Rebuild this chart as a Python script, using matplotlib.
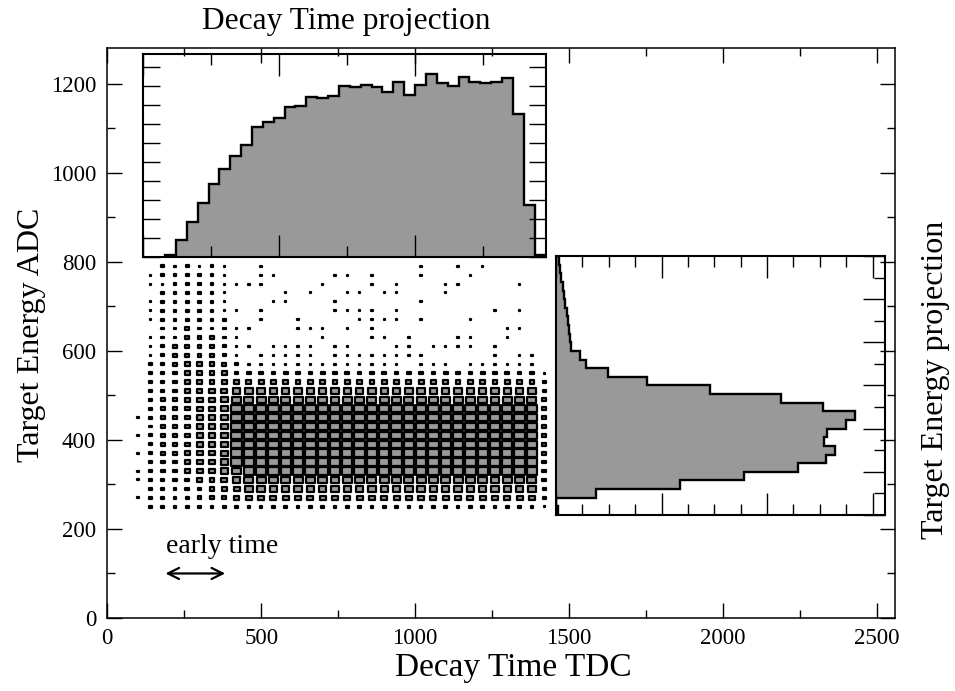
import numpy as np
import matplotlib
matplotlib.use("Agg")
import matplotlib.pyplot as plt
from matplotlib.patches import Rectangle
from matplotlib.collections import PatchCollection
from matplotlib.ticker import MultipleLocator

plt.rcParams['font.family'] = ['Liberation Serif', 'DejaVu Serif']

# ---------------- data ----------------
# Decay time binning (TDC), 40-channel bins from 80 to 1480
time_edges = np.arange(80, 1481, 40)
time_counts = [9, 87, 182, 284, 384, 466, 532, 588, 686, 710, 735, 791, 798,
               845, 838, 850, 899, 895, 904, 897, 869, 920, 852, 909, 967,
               915, 902, 949, 923, 918, 925, 946, 756, 276, 9]

# Target energy binning (ADC), 20-channel bins from 200 to 800
energy_edges = np.arange(200, 801, 20)
energy_counts = [15, 0, 382, 1173, 1785, 2291, 2562, 2645, 2544, 2569, 2752,
                 2837, 2531, 2133, 1463, 863, 490, 284, 225, 142, 136, 123,
                 111, 101, 88, 76, 64, 50, 35, 26]

# 2D box plot: visible box-size level (0 = empty, 9 = largest)
# rows from top (E = 790) to bottom (E = 250); columns T = 100 ... 1460
box_row_centers = np.arange(790, 249, -20)
box_col_centers = np.arange(100, 1461, 40)
box_levels = [
    "00323 23200 20000 00000 00020 02020 00000",
    "02333 33200 22000 02202 00020 00200 00000",
    "02233 33222 20000 20002 02000 22000 02000",
    "00333 33200 00202 00220 22000 20000 00000",
    "02333 33200 02200 02000 00020 00000 00000",
    "02333 33220 20000 02222 02000 00002 02000",
    "02333 33300 20020 00022 22020 00200 00000",
    "00334 33322 00022 20202 00000 00000 22000",
    "02334 44320 00000 20002 20200 02200 20000",
    "02344 44322 02222 02200 02202 22202 00000",
    "02344 44320 22222 02222 22220 00002 02200",
    "03345 55432 22222 22222 22022 20222 22200",
    "03345 55544 44444 44444 44444 44444 44420",
    "03345 55555 55555 55555 55555 55555 55530",
    "03345 56677 77777 77777 77777 77777 77730",
    "03445 66788 88888 88888 88888 88888 88840",
    "03445 66799 99999 99999 99999 99999 99940",
    "23445 66799 99999 99999 99999 99999 99940",
    "03445 66799 99999 99999 99999 99999 99940",
    "23445 66799 99999 99999 99999 99999 99940",
    "03445 66799 99999 99999 99999 99999 99940",
    "23445 66799 99999 99999 99999 99999 99940",
    "03445 66799 99999 99999 99999 99999 99940",
    "23445 66789 99999 99999 99999 99999 99940",
    "23344 55678 88888 88888 88888 88888 88840",
    "03334 45567 77777 77777 77777 77777 77730",
    "23333 44456 66666 66666 66666 66666 66630",
    "03333 33333 33333 33333 33333 33333 33320",
]

# style: fraction of bin size used by a box of each level
level_frac = [0.0, 0.06, 0.11, 0.21, 0.30, 0.39, 0.49, 0.60, 0.72, 0.84]

W, H = 955, 691
fig = plt.figure(figsize=(W / 100, H / 100), dpi=100)

def fig_rect(left, right, top, bottom):
    return [left / W, 1 - bottom / H, (right - left) / W, (bottom - top) / H]

# ---------------- main axes ----------------
ax = fig.add_axes(fig_rect(107.3, 895, 48, 618))
ax.set_xlim(0, 2560)
ax.set_ylim(0, 1280)
ax.xaxis.set_major_locator(MultipleLocator(500))
ax.xaxis.set_minor_locator(MultipleLocator(250))
ax.yaxis.set_major_locator(MultipleLocator(200))
ax.yaxis.set_minor_locator(MultipleLocator(100))
ax.tick_params(which='both', direction='in', top=True, right=True, width=1.0)
ax.tick_params(which='major', length=11, labelsize=16.5, pad=7)
ax.tick_params(which='minor', length=5.5)
ax.tick_params(axis='y', which='major', pad=8)
for s in ax.spines.values():
    s.set_linewidth(1.1)

bw, bh = 40, 20
rects = []
for row_str, yc in zip(box_levels, box_row_centers):
    levels = row_str.replace(" ", "")
    assert len(levels) == len(box_col_centers)
    for ch, xc in zip(levels, box_col_centers):
        lv = int(ch)
        if lv == 0:
            continue
        f = level_frac[lv]
        rects.append(Rectangle((xc - f * bw / 2, yc - f * bh / 2), f * bw, f * bh))
pc = PatchCollection(rects, facecolor='#999999', edgecolor='black', linewidth=1.6)
ax.add_collection(pc)

# early time arrow
ax.annotate('', xy=(180, 100), xytext=(392, 100),
            arrowprops=dict(arrowstyle='<->', lw=1.6, color='black',
                            mutation_scale=20))
ax.text(192, 161, 'early time', fontsize=20, ha='left', va='center')

# ---------------- top projection ----------------
axt = fig.add_axes(fig_rect(143.3, 545.5, 54, 257))
axt.patch.set_alpha(0)
axt.set_xlim(0, 1480)
axt.set_ylim(0, 1070)
axt.stairs(time_counts, time_edges, fill=True, color='#999999')
axt.stairs(time_counts, time_edges, color='black', linewidth=1.7)
axt.xaxis.set_major_locator(MultipleLocator(500))
axt.xaxis.set_minor_locator(MultipleLocator(250))
axt.yaxis.set_major_locator(MultipleLocator(100))
axt.tick_params(which='both', direction='in', top=True, right=True, width=1.0,
                labelbottom=False, labelleft=False)
axt.tick_params(which='major', axis='x', length=16)
axt.tick_params(which='minor', axis='x', length=8)
axt.tick_params(which='major', axis='y', length=12)
for s in axt.spines.values():
    s.set_linewidth(1.5)

# ---------------- right projection ----------------
axr = fig.add_axes(fig_rect(556, 885, 256, 515))
axr.patch.set_alpha(0)
axr.set_ylim(200, 800)
axr.set_xlim(0, 3118)
axr.stairs(energy_counts, energy_edges, orientation='horizontal', fill=True,
           color='#999999')
axr.stairs(energy_counts, energy_edges, orientation='horizontal',
           color='black', linewidth=1.7)
axr.xaxis.set_major_locator(MultipleLocator(1000))
axr.xaxis.set_minor_locator(MultipleLocator(250))
axr.yaxis.set_major_locator(MultipleLocator(100))
axr.yaxis.set_minor_locator(MultipleLocator(50))
axr.tick_params(which='both', direction='in', top=True, right=True, left=False,
                width=1.0, labelbottom=False, labelleft=False)
axr.tick_params(which='major', length=16)
axr.tick_params(which='minor', length=8)
for s in axr.spines.values():
    s.set_linewidth(1.5)

# ---------------- titles ----------------
fig.text(513 / W, 1 - 668 / H, 'Decay Time TDC', fontsize=24,
         ha='center', va='center')
fig.text(32 / W, 1 - 335 / H, 'Target Energy ADC', fontsize=23,
         ha='center', va='center', rotation=90)
fig.text(346 / W, 1 - 22 / H, 'Decay Time projection', fontsize=22.6,
         ha='center', va='center')
fig.text(935 / W, 1 - 380 / H, 'Target Energy projection', fontsize=23,
         ha='center', va='center', rotation=90)

fig.savefig('out.png', dpi=100)
